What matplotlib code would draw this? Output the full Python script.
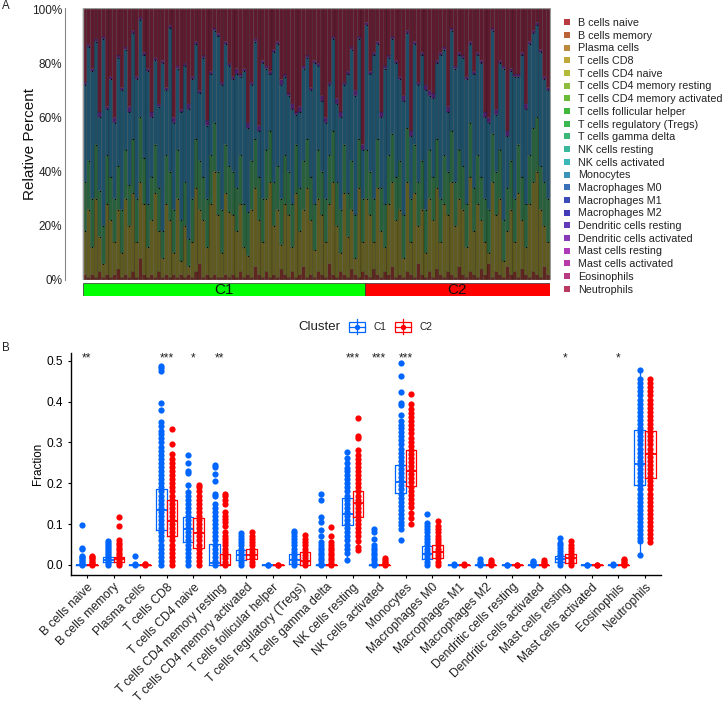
import numpy as np
import matplotlib
matplotlib.use("Agg")
import matplotlib.pyplot as plt
from matplotlib.lines import Line2D
from matplotlib.patches import Rectangle

plt.rcParams['font.family'] = ['Liberation Sans', 'DejaVu Sans']

cell_types = ["B cells naive", "B cells memory", "Plasma cells", "T cells CD8", "T cells CD4 naive",
              "T cells CD4 memory resting", "T cells CD4 memory activated", "T cells follicular helper",
              "T cells regulatory (Tregs)", "T cells gamma delta", "NK cells resting", "NK cells activated",
              "Monocytes", "Macrophages M0", "Macrophages M1", "Macrophages M2", "Dendritic cells resting",
              "Dendritic cells activated", "Mast cells resting", "Mast cells activated", "Eosinophils",
              "Neutrophils"]
legend_colors = ["#B93A3F", "#BA6238", "#BC8A3A", "#BFA83A", "#B2BC38", "#8FBC3C", "#68BC38", "#3DB83A",
                 "#3AB852", "#3AB878", "#3AB89C", "#3AB8B8", "#3A94B8", "#3A70B8", "#3A4CB8", "#423AB8",
                 "#653AB8", "#8A3AB8", "#AE3AB8", "#B83AA8", "#B83A84", "#B83A60"]

clusters = ["C1", "C2"]
cluster_sizes = [76, 50]
percent_ticks = [0, 20, 40, 60, 80, 100]

# cumulative percent per sample
top_red = [2,1,2,1,3,1,2,1,2,4,1,2,1,3,1,8,2,1,2,1,3,1,2,1,2,1,2,1,2,1,3,6,1,2,1,2,1,1,2,1,
           2,1,3,1,2,1,5,2,1,3,1,2,1,4,2,1,3,1,2,5,1,2,1,3,2,1,6,2,1,3,2,1,4,2,1,3,
           2,1,4,2,1,3,2,5,1,2,1,3,2,1,6,2,1,3,1,4,2,1,3,2,1,5,2,1,3,2,1,4,2,6,1,3,2,1,5,2,3,1,4,2,1,3,2,1,5,2]
top_olive = [18,26,12,30,16,6,28,22,14,26,10,30,20,32,14,36,28,12,22,32,18,8,28,22,10,30,7,20,5,14,34,26,22,12,28,40,24,10,32,25,
             24,18,28,12,9,26,34,22,14,30,36,20,26,13,28,24,12,32,18,26,34,22,11,30,24,14,28,36,20,10,32,16,26,8,34,14,
             30,24,14,34,18,12,28,36,22,26,8,36,14,32,20,26,10,30,22,34,14,28,24,36,20,30,26,12,38,18,28,22,14,10,36,24,30,7,18,26,14,32,22,12,28,36,40,26,20,14]
top_green = [36,44,30,50,33,20,46,38,30,42,26,48,35,52,30,60,45,28,38,50,34,18,46,40,26,48,22,36,15,30,52,44,38,30,46,58,40,26,50,42,
             40,34,46,28,25,44,52,38,30,48,55,36,42,30,46,40,28,50,34,44,52,38,28,48,40,30,46,55,36,26,50,32,44,24,52,30,
             48,40,30,52,34,28,46,54,38,44,24,56,30,50,36,44,26,48,38,52,30,46,40,55,36,48,42,28,58,34,46,38,30,26,54,40,48,22,34,44,30,50,38,28,46,56,60,42,36,30]
top_blue = [72,86,77,88,60,89,63,74,58,82,70,85,62,91,74,96,83,77,60,81,64,80,70,93,58,78,62,79,63,74,87,69,82,57,76,92,90,72,87,79,
            74,76,75,77,56,72,88,55,80,78,76,84,87,72,75,68,63,61,62,78,82,70,80,79,66,58,72,89,65,60,72,76,85,68,89,48,
            94,76,83,87,60,78,82,89,80,74,66,91,53,87,72,83,70,68,67,80,83,85,62,92,78,83,82,74,87,76,83,80,60,58,92,61,80,78,53,77,75,75,83,63,87,91,94,84,74,70]
top_purple = [73,87,78,89,62,90,64,75,60,83,71,86,64,92,75,97,84,78,62,82,65,81,71,94,60,79,63,80,65,75,88,70,83,59,77,93,91,73,88,80,
              75,78,76,78,58,73,89,57,81,79,77,85,88,74,76,69,65,62,64,79,83,71,81,80,68,60,73,90,67,62,73,77,86,70,90,50,
              95,77,84,88,62,79,83,90,81,75,68,92,55,88,73,84,72,70,69,81,84,86,64,93,79,84,83,75,88,77,84,81,62,60,93,63,81,79,55,78,76,76,84,65,88,92,95,85,75,71]
band_colors = ["#5E261E", "#5F5A20", "#27603A", "#1D5068", "#4A1E68", "#5E1A2F"]

# panel B, one list per cell type
fraction_c1 = [
    [0,.003,.006,.009,.012,.016,.02,.022,.038,.041,.099],
    [0,.005,.01,.015,.02,.025,.03,.035,.04,.045,.05,.055,.058],
    [0,.002,.022],
    [0,.01,.02,.03,.04,.05,.06,.07,.08,.09,.1,.11,.12,.13,.14,.15,.16,.17,.18,.19,.2,.21,.22,.23,.24,.25,.26,.27,.28,.29,.3,.31,.32,.328,.34,.35,.38,.397,.475,.483,.488],
    [0,.01,.02,.03,.04,.05,.06,.07,.08,.09,.1,.11,.12,.13,.14,.15,.16,.17,.178,.195,.225,.23,.25,.27],
    [0,.01,.02,.03,.04,.05,.06,.07,.08,.09,.1,.11,.12,.13,.14,.15,.17,.175,.205,.222,.24,.245],
    [0,.008,.016,.024,.032,.04,.048,.056,.064,.072,.078],
    [0,.001],
    [0,.008,.016,.024,.032,.04,.048,.056,.064,.072,.078,.082],
    [0,.006,.012,.018,.024,.03,.036,.042,.048,.056,.072,.086,.105,.117,.158,.173],
    [.013,.03,.04,.05,.06,.07,.08,.09,.1,.11,.12,.13,.14,.15,.16,.17,.18,.19,.2,.21,.22,.23,.237,.25,.263,.277],
    [0,.006,.012,.018,.024,.03,.036,.042,.05,.063,.08,.088],
    [.061,.088,.098,.106,.115,.125,.135,.145,.155,.165,.175,.185,.195,.205,.215,.225,.235,.245,.255,.265,.275,.285,.295,.305,.315,.325,.335,.342,.353,.367,.391,.397,.423,.463,.495],
    [0,.008,.016,.024,.032,.04,.048,.056,.064,.072,.08,.088,.096,.104,.126],
    [0,.003],
    [0,.004,.008,.015],
    [0,.001],
    [0,.004,.007,.01],
    [0,.007,.014,.021,.028,.035,.042,.048,.054,.066],
    [0,.001],
    [0,.002],
    [.025,.058,.066,.075,.085,.095,.105,.115,.125,.135,.145,.155,.165,.175,.185,.195,.205,.215,.225,.235,.245,.255,.265,.275,.285,.295,.305,.315,.325,.335,.345,.355,.365,.375,.385,.395,.405,.415,.425,.435,.445,.455,.477],
]
fraction_c2 = [
    [0,.004,.008,.012,.016,.02,.022],
    [0,.006,.012,.018,.024,.03,.036,.042,.048,.054,.06,.095,.117],
    [0,.002,.003],
    [0,.01,.02,.03,.04,.05,.06,.07,.08,.09,.1,.11,.12,.13,.14,.15,.16,.17,.18,.19,.2,.21,.22,.23,.24,.25,.26,.272,.295,.332],
    [0,.01,.02,.03,.04,.05,.06,.07,.08,.09,.1,.11,.12,.13,.14,.15,.16,.17,.18,.19,.197],
    [0,.008,.016,.024,.032,.04,.048,.056,.064,.072,.08,.095,.105,.112,.12,.13,.15,.16,.168,.175],
    [0,.008,.016,.024,.032,.04,.048,.056,.064,.072,.08],
    [0,.001],
    [0,.008,.016,.024,.032,.04,.048,.056,.064,.074],
    [0,.006,.012,.018,.024,.03,.036,.042,.05,.056,.07,.094],
    [.036,.045,.058,.07,.08,.09,.1,.11,.12,.13,.14,.15,.16,.17,.18,.19,.2,.21,.22,.23,.24,.25,.26,.27,.281,.31,.316,.36],
    [0,.004,.008,.012,.016],
    [.101,.115,.127,.143,.152,.162,.172,.182,.192,.202,.212,.222,.232,.242,.252,.262,.272,.282,.292,.302,.312,.322,.332,.342,.352,.362,.372,.382,.395,.419],
    [0,.008,.016,.024,.032,.04,.048,.056,.064,.072,.08,.088,.096,.108],
    [0,.002],
    [0,.004,.008,.012],
    [0,.001],
    [0,.004,.008,.013],
    [0,.007,.014,.021,.028,.035,.042,.05,.058],
    [0,.001],
    [0,.004,.008,.012,.015],
    [.056,.065,.075,.085,.095,.105,.115,.125,.135,.145,.155,.165,.175,.185,.195,.205,.215,.225,.235,.245,.255,.265,.275,.285,.295,.305,.315,.325,.335,.345,.355,.365,.375,.385,.395,.405,.415,.425,.435,.445,.455],
]
q1_c1 = [0, .008, 0, .085, .057, 0, .013, 0, .003, 0, .098, 0, .176, .015, 0, 0, 0, 0, .007, 0, 0, .197]
med_c1 = [0, .013, 0, .135, .088, .005, .024, 0, .013, 0, .126, 0, .203, .028, 0, 0, 0, 0, .014, 0, 0, .247]
q3_c1 = [.001, .02, .001, .185, .117, .051, .036, .001, .027, .001, .163, .001, .245, .046, .001, .001, .001, .001, .023, .001, .001, .331]
q1_c2 = [0, .008, 0, .07, .042, 0, .014, 0, 0, 0, .117, 0, .193, .018, 0, 0, 0, 0, .006, 0, 0, .212]
med_c2 = [0, .014, 0, .107, .079, 0, .024, 0, .01, 0, .151, 0, .231, .033, 0, 0, 0, 0, .017, 0, 0, .272]
q3_c2 = [.001, .02, .001, .158, .114, .027, .038, .001, .032, .001, .18, .001, .282, .05, .001, .001, .001, .001, .026, .001, .001, .329]
signif_labels = ["**", "", "", "***", "*", "**", "", "", "", "", "***", "***", "***", "", "", "", "", "", "*", "", "*", ""]

cluster_colors = ["#0066FF", "#FF0000"]
W, H = 724, 705
fig = plt.figure(figsize=(W / 100, H / 100), dpi=100)


def px_axes(left, top, right, bottom):
    return fig.add_axes([left / W, 1 - bottom / H, (right - left) / W, (bottom - top) / H])


def box_stats(values, q1, med, q3):
    values = np.array(values)
    iqr = q3 - q1
    inside = values[(values >= q1 - 1.5 * iqr) & (values <= q3 + 1.5 * iqr)]
    low = inside.min() if len(inside) else q1
    high = inside.max() if len(inside) else q3
    return dict(med=med, q1=q1, q3=q3, whislo=min(low, q1), whishi=max(high, q3))


# Panel A
n_samples = len(top_blue)
step = 467 / n_samples
ax_a = px_axes(65, 8, 551, 280)
x = np.arange(n_samples)
levels = [np.zeros(n_samples), top_red, top_olive, top_green, top_blue, top_purple, np.full(n_samples, 100)]
for i, color in enumerate(band_colors):
    ax_a.bar(x, np.array(levels[i + 1]) - np.array(levels[i]), bottom=levels[i], width=1, color=color,
             edgecolor="black", linewidth=0.12, snap=False)
# the small dark specks sit on the band joins
for level in (top_olive, top_green, top_blue):
    ax_a.scatter(x, level, s=0.7, color="black", linewidths=0, zorder=3)
ax_a.set_xlim(-0.5 - 18 / step, n_samples - 0.5 + 1 / step)
ax_a.set_ylim(0, 100.37)
ax_a.add_patch(Rectangle((-0.5, 0), n_samples, 100.2, fill=False, edgecolor="#999999", linewidth=1, zorder=4))
for side in ("top", "right", "bottom"):
    ax_a.spines[side].set_visible(False)
ax_a.spines["left"].set_color("#888888")
ax_a.set_xticks([])
ax_a.set_yticks(percent_ticks)
ax_a.set_yticklabels([f"{p}%" for p in percent_ticks], fontsize=8.5, color="#222222")
ax_a.tick_params(axis="y", length=0, pad=2)
ax_a.set_ylabel("Relative Percent", fontsize=11, color="#111111", labelpad=-3.4)

# cluster strip
ax_strip = px_axes(83, 283, 550, 296)
start = 0
for name, size, color in zip(clusters, cluster_sizes, ["#00FF00", "#FF0000"]):
    ax_strip.barh(0, size, left=start, height=1, color=color, edgecolor="#333333", linewidth=0.5)
    ax_strip.text(start + size / 2, -0.02, name, ha="center", va="center", fontsize=11, color="#111111")
    start += size
ax_strip.set_xlim(0, n_samples)
ax_strip.set_ylim(-0.5, 0.5)
ax_strip.axis("off")

handles = [Line2D([], [], linestyle="none", marker="s", markersize=3.7, color=c, markeredgewidth=0)
           for c in legend_colors]
fig.legend(handles, cell_types, loc="upper left", bbox_to_anchor=(562 / W, 1 - 18 / H), frameon=False,
           fontsize=7.75, labelspacing=0.25, handlelength=0.9, handletextpad=0.6, borderpad=0, borderaxespad=0,
           labelcolor="#222222")

# Panel B
ax_b = px_axes(71, 353, 661, 575)
for i in range(len(cell_types)):
    ax_b.scatter(np.full(len(fraction_c1[i]), i - 0.2), fraction_c1[i], s=20, color=cluster_colors[0],
                 linewidths=0, zorder=2)
    ax_b.scatter(np.full(len(fraction_c2[i]), i + 0.2), fraction_c2[i], s=20, color=cluster_colors[1],
                 linewidths=0, zorder=2)
for offset, color, values, q1s, meds, q3s in (
        (-0.2, cluster_colors[0], fraction_c1, q1_c1, med_c1, q3_c1),
        (0.2, cluster_colors[1], fraction_c2, q1_c2, med_c2, q3_c2)):
    stats = [box_stats(v, a, b, c) for v, a, b, c in zip(values, q1s, meds, q3s)]
    ax_b.bxp(stats, positions=np.arange(len(stats)) + offset, widths=0.4, showfliers=False, showcaps=False,
             manage_ticks=False, zorder=3,
             boxprops=dict(color=color, linewidth=0.9), medianprops=dict(color=color, linewidth=1.3),
             whiskerprops=dict(color=color, linewidth=0.9))
for i, label in enumerate(signif_labels):
    if label:
        ax_b.text(i, 0.506, label, ha="center", va="center", fontsize=8.6, color="#222222")
ax_b.set_xlim(-0.6, 21.6)
ax_b.set_ylim(-0.0245, 0.519)
ax_b.spines["top"].set_visible(False)
ax_b.spines["right"].set_visible(False)
ax_b.spines["left"].set_linewidth(1)
ax_b.spines["bottom"].set_linewidth(1)
ax_b.set_yticks([0, 0.1, 0.2, 0.3, 0.4, 0.5])
ax_b.set_xticks(np.arange(len(cell_types)))
ax_b.set_xticklabels(cell_types, rotation=45, ha="right", rotation_mode="anchor", fontsize=8.7, color="#222222")
ax_b.tick_params(axis="y", labelsize=8.6, length=2.5, width=0.8)
ax_b.tick_params(axis="x", length=2.5, width=0.8, pad=2)
ax_b.set_ylabel("Fraction", fontsize=8.4, labelpad=1.4)

# cluster key, laid out in pixels
ax_key = fig.add_axes([0, 0, 1, 1], facecolor="none")
ax_key.set_xlim(0, W)
ax_key.set_ylim(H, 0)
ax_key.axis("off")
ax_key.text(298, 326.5, "Cluster", fontsize=9.5, va="center", color="#222222")
for cx, name, color in zip((357, 403), clusters, cluster_colors):
    ax_key.add_patch(Rectangle((cx - 8, 321.5), 16, 10, fill=False, edgecolor=color, linewidth=0.9))
    ax_key.plot([cx, cx], [319, 334], color=color, linewidth=0.9)
    ax_key.plot([cx - 8, cx + 8], [326.5, 326.5], color=color, linewidth=0.9)
    ax_key.scatter([cx], [326.5], s=15, color=color, linewidths=0)
    ax_key.text(cx + 16, 326.5, name, fontsize=7.3, va="center", color="#222222")
ax_key.text(2, 6, "A", fontsize=8.3, va="center", color="#222222")
ax_key.text(2, 348, "B", fontsize=8.3, va="center", color="#222222")

fig.savefig("out.png", dpi=100)
